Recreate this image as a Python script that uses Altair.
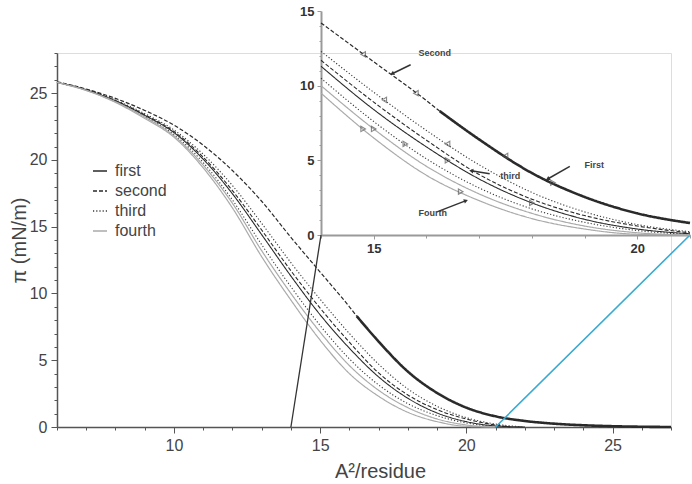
import altair as alt
import pandas as pd

# ---------------- data ----------------
SERIES = ["first", "second", "third", "fourth"]
SERIES_COLORS = ["#2a2a2a", "#2a2a2a", "#3a3a3a", "#aaaaaa"]
SERIES_DASH = [[1, 0], [4, 2], [1.2, 2], [1, 0]]

GRID_X = [6, 7, 8, 9, 10, 11, 12, 13, 14, 15, 16, 17, 18, 19, 20, 21]

FIRST_COMP_X = [16.25, 17, 18, 19, 20, 21, 22, 23, 24, 25, 26, 27]
FIRST_COMP_Y = [8.3, 6.4, 4.15, 2.55, 1.45, 0.8, 0.45, 0.25, 0.13, 0.06, 0.02, 0.0]

FIRST_EXP_X = GRID_X + [22]
FIRST_EXP_Y = [25.8, 25.24, 24.41, 23.33, 22.04, 20.05, 17.46, 14.4, 11.3, 8.4,
               5.9, 3.75, 2.15, 1.05, 0.4, 0.08, 0.0]

SECOND_COMP_X = [6, 7, 8, 9, 10, 11, 12, 13, 14, 15, 16, 16.25]
SECOND_COMP_Y = [25.85, 25.3, 24.6, 23.7, 22.6, 21.1, 19.2, 16.9, 14.2, 11.6, 9.0, 8.3]

SECOND_EXP_X = GRID_X + [21.5]
SECOND_EXP_Y = [25.8, 25.25, 24.44, 23.38, 22.12, 20.2, 17.7, 14.75, 11.7, 8.9,
                6.35, 4.05, 2.4, 1.3, 0.6, 0.15, 0.0]

THIRD_COMP_X = GRID_X + [22]
THIRD_COMP_Y = [25.8, 25.26, 24.48, 23.46, 22.24, 20.42, 18.08, 15.25, 12.3, 9.56,
                7.0, 4.7, 2.85, 1.55, 0.7, 0.22, 0.0]

THIRD_EXP_X = GRID_X
THIRD_EXP_Y = [25.8, 25.22, 24.37, 23.23, 21.9, 19.8, 17.0, 13.65, 10.5, 7.6,
               5.1, 3.15, 1.75, 0.85, 0.3, 0.03]

FOURTH_COMP_X = GRID_X
FOURTH_COMP_Y = [25.8, 25.2, 24.35, 23.2, 21.8, 19.6, 16.75, 13.2, 10.0, 7.1,
                 4.6, 2.75, 1.45, 0.6, 0.15, 0.0]

FOURTH_EXP_X = GRID_X
FOURTH_EXP_Y = [25.8, 25.2, 24.3, 23.1, 21.7, 19.4, 16.4, 12.75, 9.5, 6.5,
                4.0, 2.3, 1.1, 0.4, 0.05, 0.0]

# axis ticks
MAIN_X_TICKS = [10, 15, 20, 25]
MAIN_X_MINOR = [6, 7, 8, 9, 11, 12, 13, 14, 16, 17, 18, 19, 21, 22, 23, 24, 26, 27]
MAIN_Y_TICKS = [0, 5, 10, 15, 20, 25]
MAIN_Y_MINOR = [1, 2, 3, 4, 6, 7, 8, 9, 11, 12, 13, 14, 16, 17, 18, 19, 21, 22, 23, 24, 26, 27, 28]
INSET_X_TICKS = [15, 20]
INSET_X_MINOR = [14, 16, 17, 18, 19, 21]
INSET_Y_TICKS = [0, 5, 10, 15]
INSET_Y_MINOR = [1, 2, 3, 4, 6, 7, 8, 9, 11, 12, 13, 14]

# inset annotations
ANN_TEXT = ["Second", "First", "third", "Fourth"]
ANN_X = [15.85, 19.0, 17.4, 15.85]
ANN_Y = [12.2, 4.7, 3.95, 1.45]
ARROW_X1 = [15.7, 18.72, 17.2, 16.2]
ARROW_Y1 = [11.4, 4.6, 4.1, 1.55]
ARROW_X2 = [15.35, 18.3, 16.85, 16.75]
ARROW_Y2 = [10.8, 3.75, 4.3, 2.3]
ARROW_ANGLE = [244, 240, 279, 69]

DIR_X = [14.8, 15.8, 17.5, 15.2, 16.4, 14.8, 15.0, 15.6, 16.4, 16.65, 18.0, 18.4]
DIR_Y = [12.1, 9.5, 5.3, 9.05, 6.1, 7.1, 7.1, 6.1, 5.0, 2.9, 2.15, 3.5]
DIR_KIND = ["left", "left", "left", "left", "left",
            "right", "right", "right", "right", "right", "right", "right"]

# ---------------- layout ----------------
W, H = 614, 374
PAD = {"left": 57, "top": 53, "right": 21, "bottom": 57}
MAIN_XDOM = [6, 27]
MAIN_YDOM = [0, 28]
INSET_XDOM = [14, 21]
INSET_YDOM = [0, 15]
INSET_XRANGE = [264, 633]
INSET_YRANGE = [182, -42]

curves = [
    ("first_comp", "first", FIRST_COMP_X, FIRST_COMP_Y, 2.6),
    ("first_exp", "first", FIRST_EXP_X, FIRST_EXP_Y, 1.1),
    ("second_comp", "second", SECOND_COMP_X, SECOND_COMP_Y, 1.2),
    ("second_exp", "second", SECOND_EXP_X, SECOND_EXP_Y, 1.1),
    ("third_comp", "third", THIRD_COMP_X, THIRD_COMP_Y, 1.1),
    ("third_exp", "third", THIRD_EXP_X, THIRD_EXP_Y, 1.1),
    ("fourth_comp", "fourth", FOURTH_COMP_X, FOURTH_COMP_Y, 1.2),
    ("fourth_exp", "fourth", FOURTH_EXP_X, FOURTH_EXP_Y, 1.2),
]
rows = []
for name, ser, xs, ys, w in curves:
    for x, y in zip(xs, ys):
        rows.append({"curve": name, "series": ser, "x": x, "y": y, "w": w})
df = pd.DataFrame(rows)

FONT = "Liberation Sans"
AX_COL = "#555555"
TXT_COL = "#444444"

legend = alt.Legend(
    title=None, orient="none", legendX=35, legendY=110,
    symbolType="stroke", symbolSize=196, symbolStrokeWidth=1.3,
    labelFontSize=16, labelColor=TXT_COL, labelOffset=7, rowPadding=4,
    labelFont=FONT,
)
color_enc = alt.Color("series:N", scale=alt.Scale(domain=SERIES, range=SERIES_COLORS), legend=legend)
dash_enc = alt.StrokeDash("series:N", scale=alt.Scale(domain=SERIES, range=SERIES_DASH), legend=legend)
width_enc = alt.StrokeWidth("w:Q", scale=None, legend=None)

main_xscale = alt.Scale(domain=MAIN_XDOM, nice=False, zero=False)
main_yscale = alt.Scale(domain=MAIN_YDOM, nice=False, zero=False)
inset_xscale = alt.Scale(domain=INSET_XDOM, range=INSET_XRANGE, nice=False, zero=False)
inset_yscale = alt.Scale(domain=INSET_YDOM, range=INSET_YRANGE, nice=False, zero=False)

main_x_axis = alt.Axis(
    values=MAIN_X_TICKS, format="d", tickSize=6, labelOverlap=False, grid=False,
    title="A²/residue", titleFontSize=20, titleFontWeight="normal", titleColor=TXT_COL,
    titleX=323, titlePadding=8,
    labelFontSize=16, labelColor=TXT_COL, labelPadding=4,
    domainColor=AX_COL, tickColor=AX_COL, domainWidth=1.5,
)
main_y_axis = alt.Axis(
    values=MAIN_Y_TICKS, format="d", tickSize=6, labelOverlap=False, grid=False,
    title="π (mN/m)", titleFontSize=20, titleFontWeight="normal", titleColor=TXT_COL,
    titlePadding=0,
    labelFontSize=16, labelColor=TXT_COL, labelPadding=4,
    domainColor=AX_COL, tickColor=AX_COL, domainWidth=1.5,
)

main_lines = alt.Chart(df).mark_line(interpolate="monotone").encode(
    x=alt.X("x:Q", scale=main_xscale, axis=main_x_axis),
    y=alt.Y("y:Q", scale=main_yscale, axis=main_y_axis),
    color=color_enc, strokeDash=dash_enc, strokeWidth=width_enc, detail="curve:N"
)

# connector lines from the main x axis to the inset corners
x_end_left = MAIN_XDOM[0] + INSET_XRANGE[0] / W * (MAIN_XDOM[1] - MAIN_XDOM[0])
x_end_right = MAIN_XDOM[0] + INSET_XRANGE[1] / W * (MAIN_XDOM[1] - MAIN_XDOM[0])
y_end = MAIN_YDOM[1] * (1 - INSET_YRANGE[0] / H)
conn_left = pd.DataFrame({"x": [INSET_XDOM[0]], "y": [0], "x2": [x_end_left], "y2": [y_end]})
conn_right = pd.DataFrame({"x": [INSET_XDOM[1]], "y": [0], "x2": [x_end_right], "y2": [y_end]})

conn1 = alt.Chart(conn_left).mark_rule(color="#333333", strokeWidth=1.3).encode(
    x=alt.X("x:Q"), y=alt.Y("y:Q"), x2="x2:Q", y2="y2:Q")
conn2 = alt.Chart(conn_right).mark_rule(color="#3aaad0", strokeWidth=1.6).encode(
    x=alt.X("x:Q"), y=alt.Y("y:Q"), x2="x2:Q", y2="y2:Q")

main_layer = alt.layer(main_lines, conn1, conn2)

# minor ticks of the main axes (an axis-only layer)
main_minor = alt.Chart(df).mark_point(opacity=0).encode(
    x=alt.X("x:Q", scale=main_xscale, axis=alt.Axis(
        orient="bottom", values=MAIN_X_MINOR, labels=False, domain=False, grid=False,
        title=None, tickSize=3, tickColor=AX_COL)),
    y=alt.Y("y:Q", scale=main_yscale, axis=alt.Axis(
        orient="left", values=MAIN_Y_MINOR, labels=False, domain=False, grid=False,
        title=None, tickSize=3, tickColor=AX_COL)),
)

# ---------------- inset ----------------
inset_x_axis = alt.Axis(
    orient="bottom", offset=-(H - INSET_YRANGE[0]), values=INSET_X_TICKS, format="d",
    tickSize=4, labelOverlap=False, grid=False, title=None,
    labelFontSize=13, labelFontWeight="bold", labelColor="#333333", labelPadding=3,
    domainColor="#9a9a9a", tickColor="#9a9a9a", domainWidth=2,
)
inset_y_axis = alt.Axis(
    orient="left", offset=-INSET_XRANGE[0], values=INSET_Y_TICKS, format="d",
    tickSize=4, labelOverlap=False, grid=False, title=None,
    labelFontSize=13, labelFontWeight="bold", labelColor="#333333", labelPadding=3,
    domainColor="#9a9a9a", tickColor="#9a9a9a", domainWidth=2,
)

inset_lines = alt.Chart(df).transform_filter(
    (alt.datum.x >= INSET_XDOM[0]) & (alt.datum.x <= INSET_XDOM[1])
).mark_line(interpolate="monotone").encode(
    x=alt.X("x:Q", scale=inset_xscale, axis=inset_x_axis),
    y=alt.Y("y:Q", scale=inset_yscale, axis=inset_y_axis),
    color=color_enc, strokeDash=dash_enc, strokeWidth=width_enc, detail="curve:N"
)

ann_df = pd.DataFrame({"t": ANN_TEXT, "x": ANN_X, "y": ANN_Y})
ann_text = alt.Chart(ann_df).mark_text(
    align="left", baseline="middle", fontSize=9, fontWeight="bold", color=TXT_COL, font=FONT
).encode(x=alt.X("x:Q"), y=alt.Y("y:Q"), text="t:N")

arr_df = pd.DataFrame({"x": ARROW_X1, "y": ARROW_Y1, "x2": ARROW_X2, "y2": ARROW_Y2, "a": ARROW_ANGLE})
arr_lines = alt.Chart(arr_df).mark_rule(color="#333333", strokeWidth=1.5).encode(
    x=alt.X("x:Q"), y=alt.Y("y:Q"), x2="x2:Q", y2="y2:Q")
arr_heads = alt.Chart(arr_df).mark_point(
    shape="triangle-up", filled=True, color="#333333", size=22, opacity=1
).encode(x=alt.X("x2:Q"), y=alt.Y("y2:Q"), angle=alt.Angle("a:Q", scale=None))

dir_df = pd.DataFrame({"x": DIR_X, "y": DIR_Y, "k": DIR_KIND})
dir_marks = alt.Chart(dir_df).mark_point(filled=False, color="#555555", size=28, strokeWidth=1.1).encode(
    x=alt.X("x:Q"), y=alt.Y("y:Q"),
    shape=alt.Shape("k:N", scale=alt.Scale(domain=["left", "right"],
                                           range=["triangle-left", "triangle-right"]), legend=None),
)

inset_layer = alt.layer(inset_lines, dir_marks, arr_lines, arr_heads, ann_text)

inset_minor = alt.Chart(df).mark_point(opacity=0).encode(
    x=alt.X("x:Q", scale=inset_xscale, axis=alt.Axis(
        orient="bottom", offset=-(H - INSET_YRANGE[0]), values=INSET_X_MINOR, labels=False,
        domain=False, grid=False, title=None, tickSize=3, tickColor="#9a9a9a")),
    y=alt.Y("y:Q", scale=inset_yscale, axis=alt.Axis(
        orient="left", offset=-INSET_XRANGE[0], values=INSET_Y_MINOR, labels=False,
        domain=False, grid=False, title=None, tickSize=2, tickColor="#9a9a9a")),
)

chart = alt.layer(main_layer, main_minor, inset_layer, inset_minor).resolve_scale(
    x="independent", y="independent"
).properties(
    width=W, height=H, autosize=alt.AutoSizeParams(type="none"), padding=PAD
).configure_view(stroke=None).configure(font=FONT)

chart.save("out.html", embed_options={"renderer": "svg", "actions": False})
